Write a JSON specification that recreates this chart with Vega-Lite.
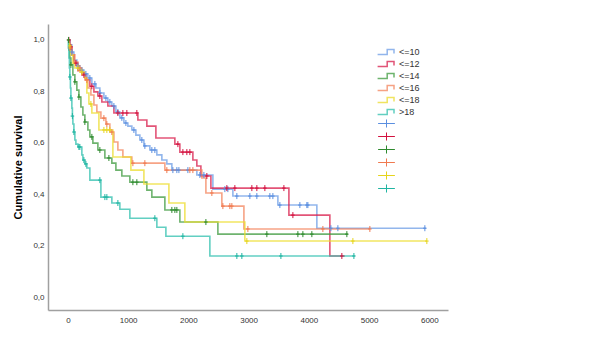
{
  "$schema": "https://vega.github.io/schema/vega-lite/v6.json",
  "width": 400,
  "height": 286,
  "autosize": "none",
  "padding": {"left": 48, "top": 24, "right": 152, "bottom": 44},
  "background": "white",
  "config": {"font": "Liberation Sans", "view": {"stroke": null}},
  "datasets": {
    "lines": [
      {"g": "<=10", "t": 0, "s": 1.0}, {"g": "<=10", "t": 33, "s": 0.981}, {"g": "<=10", "t": 66, "s": 0.953}, {"g": "<=10", "t": 100, "s": 0.922}, {"g": "<=10", "t": 149, "s": 0.899}, {"g": "<=10", "t": 199, "s": 0.883}, {"g": "<=10", "t": 266, "s": 0.868}, {"g": "<=10", "t": 332, "s": 0.852}, {"g": "<=10", "t": 398, "s": 0.829}, {"g": "<=10", "t": 465, "s": 0.813}, {"g": "<=10", "t": 531, "s": 0.794}, {"g": "<=10", "t": 598, "s": 0.774}, {"g": "<=10", "t": 664, "s": 0.759}, {"g": "<=10", "t": 730, "s": 0.743}, {"g": "<=10", "t": 797, "s": 0.72}, {"g": "<=10", "t": 863, "s": 0.697}, {"g": "<=10", "t": 930, "s": 0.677}, {"g": "<=10", "t": 996, "s": 0.665}, {"g": "<=10", "t": 1062, "s": 0.65}, {"g": "<=10", "t": 1129, "s": 0.63}, {"g": "<=10", "t": 1195, "s": 0.611}, {"g": "<=10", "t": 1262, "s": 0.588}, {"g": "<=10", "t": 1361, "s": 0.572}, {"g": "<=10", "t": 1477, "s": 0.553}, {"g": "<=10", "t": 1560, "s": 0.533}, {"g": "<=10", "t": 1643, "s": 0.518}, {"g": "<=10", "t": 1726, "s": 0.494}, {"g": "<=10", "t": 2141, "s": 0.475}, {"g": "<=10", "t": 2407, "s": 0.42}, {"g": "<=10", "t": 2739, "s": 0.393}, {"g": "<=10", "t": 3486, "s": 0.358}, {"g": "<=10", "t": 4133, "s": 0.268}, {"g": "<=10", "t": 5943, "s": 0.268},
      {"g": "<=12", "t": 0, "s": 1.0}, {"g": "<=12", "t": 33, "s": 0.973}, {"g": "<=12", "t": 66, "s": 0.942}, {"g": "<=12", "t": 100, "s": 0.91}, {"g": "<=12", "t": 166, "s": 0.88}, {"g": "<=12", "t": 232, "s": 0.864}, {"g": "<=12", "t": 299, "s": 0.845}, {"g": "<=12", "t": 365, "s": 0.82}, {"g": "<=12", "t": 432, "s": 0.798}, {"g": "<=12", "t": 498, "s": 0.782}, {"g": "<=12", "t": 564, "s": 0.759}, {"g": "<=12", "t": 664, "s": 0.743}, {"g": "<=12", "t": 764, "s": 0.716}, {"g": "<=12", "t": 1162, "s": 0.689}, {"g": "<=12", "t": 1311, "s": 0.665}, {"g": "<=12", "t": 1461, "s": 0.619}, {"g": "<=12", "t": 1776, "s": 0.595}, {"g": "<=12", "t": 1859, "s": 0.564}, {"g": "<=12", "t": 2075, "s": 0.533}, {"g": "<=12", "t": 2141, "s": 0.51}, {"g": "<=12", "t": 2208, "s": 0.471}, {"g": "<=12", "t": 2374, "s": 0.424}, {"g": "<=12", "t": 3669, "s": 0.319}, {"g": "<=12", "t": 4349, "s": 0.16}, {"g": "<=12", "t": 4598, "s": 0.16},
      {"g": "<=14", "t": 0, "s": 1.0}, {"g": "<=14", "t": 17, "s": 0.961}, {"g": "<=14", "t": 33, "s": 0.93}, {"g": "<=14", "t": 50, "s": 0.903}, {"g": "<=14", "t": 83, "s": 0.864}, {"g": "<=14", "t": 116, "s": 0.837}, {"g": "<=14", "t": 149, "s": 0.805}, {"g": "<=14", "t": 183, "s": 0.778}, {"g": "<=14", "t": 216, "s": 0.739}, {"g": "<=14", "t": 249, "s": 0.708}, {"g": "<=14", "t": 282, "s": 0.681}, {"g": "<=14", "t": 332, "s": 0.65}, {"g": "<=14", "t": 365, "s": 0.623}, {"g": "<=14", "t": 415, "s": 0.599}, {"g": "<=14", "t": 498, "s": 0.572}, {"g": "<=14", "t": 614, "s": 0.541}, {"g": "<=14", "t": 730, "s": 0.521}, {"g": "<=14", "t": 797, "s": 0.494}, {"g": "<=14", "t": 896, "s": 0.471}, {"g": "<=14", "t": 1029, "s": 0.447}, {"g": "<=14", "t": 1311, "s": 0.416}, {"g": "<=14", "t": 1394, "s": 0.389}, {"g": "<=14", "t": 1610, "s": 0.339}, {"g": "<=14", "t": 1859, "s": 0.292}, {"g": "<=14", "t": 2490, "s": 0.245}, {"g": "<=14", "t": 4648, "s": 0.245},
      {"g": "<=16", "t": 0, "s": 1.0}, {"g": "<=16", "t": 17, "s": 0.969}, {"g": "<=16", "t": 66, "s": 0.942}, {"g": "<=16", "t": 116, "s": 0.914}, {"g": "<=16", "t": 166, "s": 0.891}, {"g": "<=16", "t": 232, "s": 0.868}, {"g": "<=16", "t": 282, "s": 0.844}, {"g": "<=16", "t": 332, "s": 0.813}, {"g": "<=16", "t": 382, "s": 0.786}, {"g": "<=16", "t": 432, "s": 0.747}, {"g": "<=16", "t": 481, "s": 0.72}, {"g": "<=16", "t": 548, "s": 0.696}, {"g": "<=16", "t": 631, "s": 0.673}, {"g": "<=16", "t": 697, "s": 0.642}, {"g": "<=16", "t": 764, "s": 0.603}, {"g": "<=16", "t": 830, "s": 0.572}, {"g": "<=16", "t": 913, "s": 0.545}, {"g": "<=16", "t": 1062, "s": 0.521}, {"g": "<=16", "t": 1610, "s": 0.494}, {"g": "<=16", "t": 2224, "s": 0.463}, {"g": "<=16", "t": 2291, "s": 0.405}, {"g": "<=16", "t": 2556, "s": 0.354}, {"g": "<=16", "t": 2922, "s": 0.265}, {"g": "<=16", "t": 5013, "s": 0.265},
      {"g": "<=18", "t": 0, "s": 1.0}, {"g": "<=18", "t": 17, "s": 0.977}, {"g": "<=18", "t": 50, "s": 0.942}, {"g": "<=18", "t": 83, "s": 0.91}, {"g": "<=18", "t": 116, "s": 0.891}, {"g": "<=18", "t": 199, "s": 0.875}, {"g": "<=18", "t": 282, "s": 0.852}, {"g": "<=18", "t": 315, "s": 0.794}, {"g": "<=18", "t": 349, "s": 0.751}, {"g": "<=18", "t": 398, "s": 0.716}, {"g": "<=18", "t": 515, "s": 0.65}, {"g": "<=18", "t": 747, "s": 0.545}, {"g": "<=18", "t": 1046, "s": 0.494}, {"g": "<=18", "t": 1262, "s": 0.44}, {"g": "<=18", "t": 1677, "s": 0.366}, {"g": "<=18", "t": 1942, "s": 0.292}, {"g": "<=18", "t": 2938, "s": 0.218}, {"g": "<=18", "t": 5959, "s": 0.218},
      {"g": ">18", "t": 0, "s": 1.0}, {"g": ">18", "t": 8, "s": 0.969}, {"g": ">18", "t": 17, "s": 0.93}, {"g": ">18", "t": 25, "s": 0.891}, {"g": ">18", "t": 33, "s": 0.856}, {"g": ">18", "t": 42, "s": 0.813}, {"g": ">18", "t": 50, "s": 0.774}, {"g": ">18", "t": 66, "s": 0.735}, {"g": ">18", "t": 75, "s": 0.704}, {"g": ">18", "t": 83, "s": 0.673}, {"g": ">18", "t": 100, "s": 0.642}, {"g": ">18", "t": 116, "s": 0.611}, {"g": ">18", "t": 133, "s": 0.595}, {"g": ">18", "t": 166, "s": 0.584}, {"g": ">18", "t": 232, "s": 0.553}, {"g": ">18", "t": 249, "s": 0.533}, {"g": ">18", "t": 282, "s": 0.518}, {"g": ">18", "t": 315, "s": 0.502}, {"g": ">18", "t": 365, "s": 0.455}, {"g": ">18", "t": 548, "s": 0.389}, {"g": ">18", "t": 730, "s": 0.366}, {"g": ">18", "t": 863, "s": 0.342}, {"g": ">18", "t": 1029, "s": 0.307}, {"g": ">18", "t": 1477, "s": 0.272}, {"g": ">18", "t": 1627, "s": 0.237}, {"g": ">18", "t": 2357, "s": 0.16}, {"g": ">18", "t": 4764, "s": 0.16}
    ],
    "cens": [
      {"g": "<=10", "t": 66, "s": 0.953}, {"g": "<=10", "t": 166, "s": 0.899}, {"g": "<=10", "t": 232, "s": 0.883}, {"g": "<=10", "t": 299, "s": 0.868}, {"g": "<=10", "t": 365, "s": 0.852}, {"g": "<=10", "t": 448, "s": 0.829}, {"g": "<=10", "t": 531, "s": 0.794}, {"g": "<=10", "t": 631, "s": 0.774}, {"g": "<=10", "t": 697, "s": 0.759}, {"g": "<=10", "t": 764, "s": 0.743}, {"g": "<=10", "t": 830, "s": 0.72}, {"g": "<=10", "t": 896, "s": 0.697}, {"g": "<=10", "t": 963, "s": 0.677}, {"g": "<=10", "t": 1096, "s": 0.65}, {"g": "<=10", "t": 1228, "s": 0.611}, {"g": "<=10", "t": 1278, "s": 0.588}, {"g": "<=10", "t": 1394, "s": 0.572}, {"g": "<=10", "t": 1444, "s": 0.572}, {"g": "<=10", "t": 1743, "s": 0.494}, {"g": "<=10", "t": 1809, "s": 0.494}, {"g": "<=10", "t": 1843, "s": 0.494}, {"g": "<=10", "t": 1992, "s": 0.494}, {"g": "<=10", "t": 2191, "s": 0.475}, {"g": "<=10", "t": 2258, "s": 0.475}, {"g": "<=10", "t": 2606, "s": 0.42}, {"g": "<=10", "t": 2656, "s": 0.42}, {"g": "<=10", "t": 2805, "s": 0.393}, {"g": "<=10", "t": 3021, "s": 0.393}, {"g": "<=10", "t": 3137, "s": 0.393}, {"g": "<=10", "t": 3353, "s": 0.393}, {"g": "<=10", "t": 3403, "s": 0.393}, {"g": "<=10", "t": 3519, "s": 0.358}, {"g": "<=10", "t": 3851, "s": 0.358}, {"g": "<=10", "t": 3967, "s": 0.358}, {"g": "<=10", "t": 3984, "s": 0.358}, {"g": "<=10", "t": 4366, "s": 0.268}, {"g": "<=10", "t": 4482, "s": 0.268}, {"g": "<=10", "t": 5926, "s": 0.268},
      {"g": "<=12", "t": 17, "s": 1.0}, {"g": "<=12", "t": 50, "s": 0.973}, {"g": "<=12", "t": 133, "s": 0.91}, {"g": "<=12", "t": 266, "s": 0.864}, {"g": "<=12", "t": 398, "s": 0.82}, {"g": "<=12", "t": 531, "s": 0.782}, {"g": "<=12", "t": 830, "s": 0.716}, {"g": "<=12", "t": 913, "s": 0.716}, {"g": "<=12", "t": 979, "s": 0.716}, {"g": "<=12", "t": 1145, "s": 0.716}, {"g": "<=12", "t": 1826, "s": 0.595}, {"g": "<=12", "t": 1909, "s": 0.564}, {"g": "<=12", "t": 1975, "s": 0.564}, {"g": "<=12", "t": 2025, "s": 0.564}, {"g": "<=12", "t": 2307, "s": 0.471}, {"g": "<=12", "t": 2639, "s": 0.424}, {"g": "<=12", "t": 2772, "s": 0.424}, {"g": "<=12", "t": 3054, "s": 0.424}, {"g": "<=12", "t": 3137, "s": 0.424}, {"g": "<=12", "t": 3270, "s": 0.424}, {"g": "<=12", "t": 3586, "s": 0.424}, {"g": "<=12", "t": 3735, "s": 0.319}, {"g": "<=12", "t": 4548, "s": 0.16},
      {"g": "<=14", "t": 10, "s": 1.0}, {"g": "<=14", "t": 50, "s": 0.903}, {"g": "<=14", "t": 116, "s": 0.837}, {"g": "<=14", "t": 183, "s": 0.778}, {"g": "<=14", "t": 282, "s": 0.681}, {"g": "<=14", "t": 398, "s": 0.623}, {"g": "<=14", "t": 531, "s": 0.572}, {"g": "<=14", "t": 681, "s": 0.541}, {"g": "<=14", "t": 1079, "s": 0.447}, {"g": "<=14", "t": 1145, "s": 0.447}, {"g": "<=14", "t": 1726, "s": 0.339}, {"g": "<=14", "t": 1776, "s": 0.339}, {"g": "<=14", "t": 1809, "s": 0.339}, {"g": "<=14", "t": 2291, "s": 0.292}, {"g": "<=14", "t": 3303, "s": 0.245}, {"g": "<=14", "t": 3818, "s": 0.245}, {"g": "<=14", "t": 3901, "s": 0.245}, {"g": "<=14", "t": 4050, "s": 0.245}, {"g": "<=14", "t": 4631, "s": 0.245},
      {"g": "<=16", "t": 33, "s": 0.969}, {"g": "<=16", "t": 199, "s": 0.891}, {"g": "<=16", "t": 315, "s": 0.844}, {"g": "<=16", "t": 598, "s": 0.696}, {"g": "<=16", "t": 647, "s": 0.673}, {"g": "<=16", "t": 730, "s": 0.642}, {"g": "<=16", "t": 1079, "s": 0.521}, {"g": "<=16", "t": 1278, "s": 0.521}, {"g": "<=16", "t": 1643, "s": 0.494}, {"g": "<=16", "t": 2025, "s": 0.494}, {"g": "<=16", "t": 2075, "s": 0.494}, {"g": "<=16", "t": 2390, "s": 0.405}, {"g": "<=16", "t": 2573, "s": 0.354}, {"g": "<=16", "t": 2689, "s": 0.354}, {"g": "<=16", "t": 2722, "s": 0.354}, {"g": "<=16", "t": 2988, "s": 0.265}, {"g": "<=16", "t": 4233, "s": 0.265}, {"g": "<=16", "t": 5013, "s": 0.265},
      {"g": "<=18", "t": 33, "s": 0.977}, {"g": "<=18", "t": 166, "s": 0.891}, {"g": "<=18", "t": 232, "s": 0.875}, {"g": "<=18", "t": 382, "s": 0.751}, {"g": "<=18", "t": 598, "s": 0.65}, {"g": "<=18", "t": 647, "s": 0.65}, {"g": "<=18", "t": 697, "s": 0.65}, {"g": "<=18", "t": 2971, "s": 0.218}, {"g": "<=18", "t": 4731, "s": 0.218}, {"g": "<=18", "t": 5959, "s": 0.218},
      {"g": ">18", "t": 33, "s": 0.856}, {"g": ">18", "t": 50, "s": 0.774}, {"g": ">18", "t": 75, "s": 0.704}, {"g": ">18", "t": 100, "s": 0.642}, {"g": ">18", "t": 183, "s": 0.584}, {"g": ">18", "t": 199, "s": 0.584}, {"g": ">18", "t": 266, "s": 0.533}, {"g": ">18", "t": 299, "s": 0.518}, {"g": ">18", "t": 531, "s": 0.455}, {"g": ">18", "t": 614, "s": 0.389}, {"g": ">18", "t": 647, "s": 0.389}, {"g": ">18", "t": 830, "s": 0.366}, {"g": ">18", "t": 1444, "s": 0.307}, {"g": ">18", "t": 1909, "s": 0.237}, {"g": ">18", "t": 2805, "s": 0.16}, {"g": ">18", "t": 2888, "s": 0.16}, {"g": ">18", "t": 3536, "s": 0.16}, {"g": ">18", "t": 4748, "s": 0.16}
    ]
  },
  "encoding": {
    "x": {
      "field": "t", "type": "quantitative",
      "scale": {"domain": [-330, 6310], "nice": false, "zero": false},
      "axis": {"title": null, "values": [0, 1000, 2000, 3000, 4000, 5000, 6000], "format": "d", "ticks": false, "grid": false, "domainColor": "#a0a0a0", "domainWidth": 1.5, "labelFontSize": 8, "labelColor": "#333333", "labelPadding": 6}
    },
    "y": {
      "field": "s", "type": "quantitative",
      "scale": {"domain": [-0.05, 1.062], "nice": false, "zero": false},
      "axis": {"title": "Cumulative survival", "titleFontSize": 11, "titleFontWeight": "bold", "titleColor": "#000000", "titlePadding": 9, "values": [0, 0.2, 0.4, 0.6, 0.8, 1.0], "labelExpr": "replace(format(datum.value, '.1f'), '.', ',')", "ticks": false, "grid": false, "domainColor": "#a0a0a0", "domainWidth": 1.5, "labelFontSize": 8, "labelColor": "#333333", "labelPadding": 4}
    }
  },
  "layer": [
    {
      "data": {"name": "lines"},
      "mark": {"type": "line", "interpolate": "step-after", "strokeWidth": 1.6, "opacity": 0.75},
      "encoding": {
        "detail": {"field": "g"},
        "color": {
          "field": "g", "type": "nominal",
          "scale": {"domain": ["<=10", "<=12", "<=14", "<=16", "<=18", ">18"], "range": ["#6d9de6", "#d81b4a", "#3d9a3d", "#f3845c", "#ecdc2c", "#2ebfad"]},
          "legend": {"title": null, "orient": "none", "legendX": 333, "legendY": 23, "padding": 0, "symbolType": "M-2.1,0.6L0.3,0.6L0.3,-0.6L2,-0.6L2,0.4", "symbolSize": 64, "symbolStrokeWidth": 1.5, "symbolFillColor": "transparent", "symbolOpacity": 0.75, "labelFontSize": 9, "labelColor": "#333333", "rowPadding": 0, "labelOffset": 8}
        }
      }
    },
    {
      "data": {"name": "cens"},
      "mark": {"type": "point", "shape": "M-0.6,0L0.6,0M0,-1L0,1", "filled": false, "size": 36, "strokeWidth": 1, "opacity": 1},
      "encoding": {
        "color": {
          "field": "g", "type": "nominal",
          "scale": {"domain": ["<=10", "<=12", "<=14", "<=16", "<=18", ">18"], "range": ["#5b8fe0", "#d3123f", "#2f8a2f", "#f07a50", "#e6d41c", "#20b5a2"]},
          "legend": {"title": null, "orient": "none", "legendX": 334, "legendY": 95, "padding": 0, "symbolType": "M-2.4,0L2.4,0M0,-1.15L0,1.15", "symbolSize": 49, "symbolStrokeWidth": 1, "symbolFillColor": "transparent", "symbolStrokeColor": null, "labelExpr": "''", "rowPadding": 0, "labelFontSize": 9}
        }
      }
    }
  ],
  "resolve": {"scale": {"color": "independent"}}
}
